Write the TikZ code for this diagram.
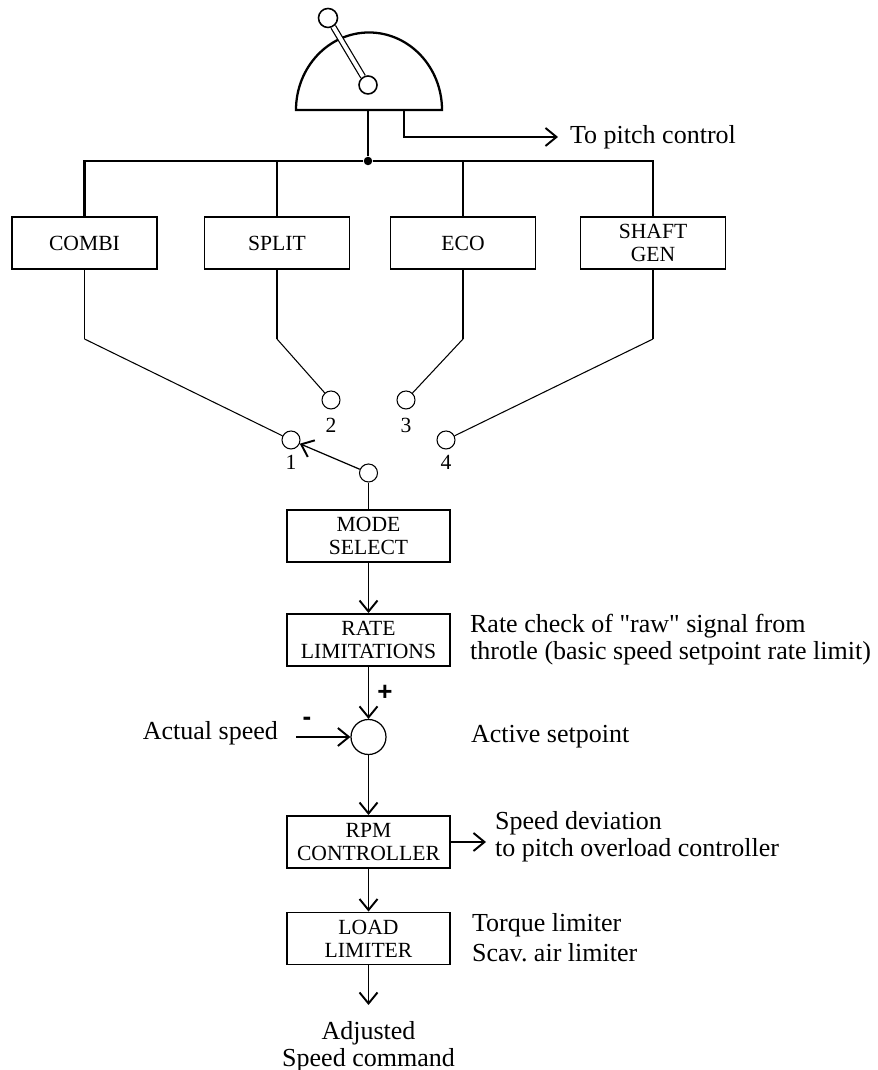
\documentclass[tikz,border=0pt]{standalone}
\usepackage{fontspec}
\setmainfont{Liberation Serif}[Ligatures=TeXOff]
\setsansfont{Liberation Sans}
\usetikzlibrary{arrows.meta}
\newcommand{\boxfont}{\fontsize{12.3}{13.1}\selectfont}
\newcommand{\txtfont}{\fontsize{14.8}{15.4}\selectfont}

\begin{document}
\begin{tikzpicture}[>={Straight Barb[length=2.2mm,width=3.6mm,line width=1.1pt]},
  blk/.style={draw,line width=1.1pt,minimum width=2.9cm,minimum height=1.04cm,align=center,inner sep=1pt,font=\boxfont},
  wide/.style={blk,minimum width=3.26cm},
  term/.style={draw,circle,line width=0.6pt,minimum size=0.36cm,inner sep=0pt,fill=white},
  txt/.style={inner sep=1pt,font=\txtfont,align=left},
  num/.style={inner sep=0pt,font=\boxfont}]
\useasboundingbox (0,0) rectangle (17.54,21.4);
\draw[line width=1.3pt] (5.92,19.2) arc[start angle=180,end angle=0,x radius=1.46,y radius=1.55] -- cycle;
\node[term,line width=0.9pt,minimum size=0.38cm] (knob) at (6.56,21.04) {};
\node[term,line width=0.9pt] (pivot) at (7.36,19.7) {};
\draw[double,double distance=2.2pt,line width=0.7pt] (knob) -- (pivot);
\node[circle,fill,inner sep=0pt,minimum size=0.17cm] (hub) at (7.36,18.18) {};
\coordinate (base) at (7.36,19.2);
\coordinate (pout) at (8.08,19.2);
\draw[line width=1.3pt] (base) -- (hub);
\node[txt,anchor=west] (pitch) at (11.36,18.66) {To pitch control};
\draw[->,line width=0.7pt,shorten >=0.2cm] (pout) |- (pitch.west);
\node[blk] (combi) at (1.69,16.54) {COMBI};
\node[blk] (split) at (5.54,16.54) {SPLIT};
\node[blk] (eco) at (9.26,16.54) {ECO};
\node[blk] (shaft) at (13.06,16.54) {SHAFT\\GEN};
\draw[line width=1.3pt] (combi.north) |- (hub) -| (shaft.north);
\draw[line width=1.3pt] (split.north) -- (split.north|-hub);
\draw[line width=1.3pt] (eco.north) -- (eco.north|-hub);
\coordinate (combi-k) at (1.69,14.62);
\coordinate (split-k) at (5.54,14.62);
\coordinate (eco-k) at (9.26,14.62);
\coordinate (shaft-k) at (13.06,14.62);
\node[term] (t1) at (5.82,12.6) {};
\node[term] (t2) at (6.62,13.4) {};
\node[term] (t3) at (8.12,13.4) {};
\node[term] (t4) at (8.92,12.6) {};
\node[num] (n1) at (5.82,12.16) {1};
\node[num] (n2) at (6.62,12.9) {2};
\node[num] (n3) at (8.12,12.9) {3};
\node[num] (n4) at (8.92,12.16) {4};
\draw[line width=1.1pt] (combi) -- (combi-k);
\draw[line width=1.1pt] (split) -- (split-k);
\draw[line width=1.1pt] (eco) -- (eco-k);
\draw[line width=1.1pt] (shaft) -- (shaft-k);
\draw[line width=0.6pt] (combi-k) -- (t1);
\draw[line width=0.6pt] (split-k) -- (t2);
\draw[line width=0.6pt] (eco-k) -- (t3);
\draw[line width=0.6pt] (shaft-k) -- (t4);
\node[term] (wiper) at (7.37,11.94) {};
\draw[->,line width=0.7pt] (wiper) -- (t1);
\node[wide] (mode) at (7.37,10.68) {MODE\\SELECT};
\node[wide] (rate) at (7.37,8.6) {RATE\\LIMITATIONS};
\node[draw,circle,line width=0.7pt,minimum size=0.7cm,inner sep=0pt] (sum) at (7.37,6.66) {};
\node[wide] (rpm) at (7.37,4.56) {RPM\\CONTROLLER};
\node[wide] (load) at (7.37,2.63) {LOAD\\LIMITER};
\draw[line width=1.1pt] (wiper) -- (mode);
\draw[->,line width=1.1pt] (mode) -- (rate);
\draw[->,line width=1.1pt] (rate) -- (sum);
\draw[->,line width=1.1pt] (sum) -- (rpm);
\draw[->,line width=1.1pt] (rpm) -- (load);
\coordinate (out) at (7.37,1.3);
\draw[->,line width=1.1pt] (load) -- (out);
\node[font=\txtfont\sffamily\bfseries,inner sep=0pt] (plus) at (7.7,7.54) {+};
\node[font=\txtfont\sffamily\bfseries,inner sep=0pt] (minus) at (6.14,6.98) {-};
\node[txt,anchor=east] (speed) at (5.6,6.74) {Actual speed};
\coordinate (speed-a) at (5.92,6.66);
\draw[->,line width=1.1pt] (speed-a) -- (sum);
\node[txt,anchor=west] (active) at (9.38,6.66) {Active setpoint};
\node[txt,anchor=west] (ratenote) at (9.36,8.6) {Rate check of "raw" signal from\\throtle (basic speed setpoint rate limit)};
\coordinate (dev-a) at (9.72,4.56);
\draw[->,line width=0.7pt] (rpm) -- (dev-a);
\node[txt,anchor=west] (devnote) at (9.86,4.66) {Speed deviation\\to pitch overload controller};
\node[txt,anchor=west] (loadnote) at (9.4,2.65) {Torque limiter\\[2pt]Scav.\ air limiter};
\node[txt,align=center] (cmd) at (7.37,0.47) {Adjusted\\Speed command};
\end{tikzpicture}
\end{document}
